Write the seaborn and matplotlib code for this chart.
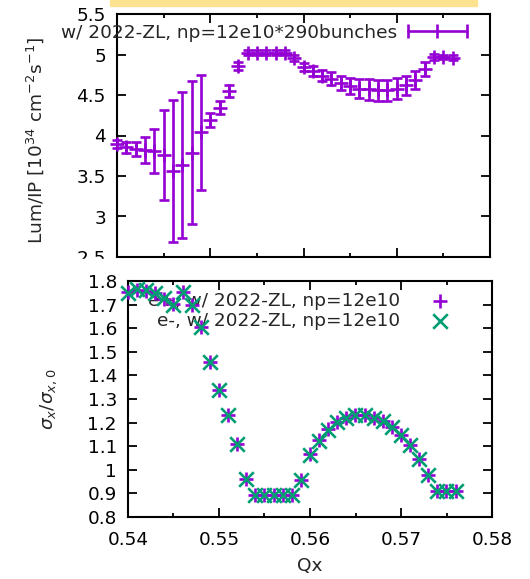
import matplotlib
matplotlib.use('Agg')
import matplotlib.pyplot as plt
import matplotlib.ticker as mticker
from matplotlib.lines import Line2D
from matplotlib.patches import Rectangle
import seaborn as sns
import pandas as pd

# tune scan points
qx = [0.540, 0.541, 0.542, 0.543, 0.544, 0.545, 0.546, 0.547, 0.548, 0.549,
      0.550, 0.551, 0.552, 0.553, 0.554, 0.555, 0.556, 0.557, 0.558, 0.559,
      0.560, 0.561, 0.562, 0.563, 0.564, 0.565, 0.566, 0.567, 0.568, 0.569,
      0.570, 0.571, 0.572, 0.573, 0.574, 0.575, 0.576]

# luminosity per IP [1e34 cm^-2 s^-1]
lum = [3.90, 3.855, 3.83, 3.82, 3.81, 3.76, 3.56, 3.64, 3.79, 4.04,
       4.19, 4.34, 4.55, 4.86, 5.02, 5.02, 5.02, 5.02, 5.02, 4.96,
       4.85, 4.80, 4.74, 4.70, 4.65, 4.61, 4.58, 4.57, 4.56, 4.56,
       4.58, 4.62, 4.69, 4.82, 4.97, 4.97, 4.96]
lum_err = [0.05, 0.07, 0.085, 0.16, 0.27, 0.56, 0.88, 0.90, 0.88, 0.71,
           0.09, 0.08, 0.075, 0.05, 0.03, 0.03, 0.03, 0.03, 0.03, 0.04,
           0.05, 0.06, 0.07, 0.08, 0.09, 0.10, 0.12, 0.13, 0.13, 0.13,
           0.13, 0.12, 0.11, 0.09, 0.04, 0.03, 0.03]

# horizontal beam size ratio
sig_ep = [1.752, 1.762, 1.759, 1.748, 1.724, 1.702, 1.752, 1.700, 1.606, 1.455,
          1.338, 1.232, 1.108, 0.961, 0.893, 0.893, 0.893, 0.893, 0.893, 0.955,
          1.065, 1.126, 1.173, 1.204, 1.221, 1.232, 1.232, 1.221, 1.207, 1.183,
          1.147, 1.105, 1.046, 0.978, 0.910, 0.910, 0.910]
sig_em = [1.750, 1.765, 1.762, 1.750, 1.728, 1.700, 1.755, 1.698, 1.604, 1.455,
          1.338, 1.232, 1.108, 0.961, 0.893, 0.893, 0.893, 0.893, 0.893, 0.955,
          1.063, 1.124, 1.170, 1.202, 1.220, 1.232, 1.231, 1.220, 1.205, 1.181,
          1.146, 1.103, 1.045, 0.977, 0.910, 0.910, 0.910]

lum_label = 'w/ 2022-ZL, np=12e10*290bunches'
ep_label = 'e+, w/ 2022-ZL, np=12e10'
em_label = 'e-, w/ 2022-ZL, np=12e10'

purple = '#9400d3'
green = '#009e73'
fs = 13.3

sns.set_style('ticks')
plt.rcParams['font.family'] = ['DejaVu Sans']
plt.rcParams['mathtext.fontset'] = 'dejavusans'
plt.rcParams['font.size'] = fs

df = pd.DataFrame({'qx': qx, 'ep': sig_ep, 'em': sig_em})

fig = plt.figure(figsize=(5.3, 5.79), dpi=100)
W, H = 530, 579
ax1 = fig.add_axes([117 / W, 1 - 257 / H, 373 / W, 243 / H], zorder=0)
ax2 = fig.add_axes([128 / W, 1 - 517 / H, 364 / W, 236 / H], zorder=2)

# strip at the top and cover that clips the lower tick label of the top panel
fig.add_artist(Rectangle((110 / W, 1 - 6 / H), 367 / W, 6 / H,
                         transform=fig.transFigure, color='#fde38f', zorder=1))
fig.add_artist(Rectangle((0, 0), 1, 1 - 259 / H, transform=fig.transFigure,
                         color='white', zorder=1))

# top panel
ax1.errorbar(qx, lum, yerr=lum_err, fmt='+', color=purple, ms=10, mew=1.9,
             elinewidth=1.9, capsize=3.8, capthick=1.9, clip_on=False, zorder=3)
ax1.set_xlim(0.54, 0.58)
ax1.set_ylim(2.5, 5.5)
ax1.yaxis.set_major_locator(mticker.MultipleLocator(0.5))
ax1.xaxis.set_major_locator(mticker.MultipleLocator(0.01))
ax1.xaxis.set_minor_locator(mticker.MultipleLocator(0.005))
ax1.yaxis.set_major_formatter(mticker.FormatStrFormatter('%g'))
ax1.tick_params(labelbottom=False)
ax1.set_ylabel(r'Lum/IP [10$^{34}$ cm$^{-2}$s$^{-1}$]')
ax1.yaxis.set_label_coords(-0.19, 0.48)
h1 = Line2D([], [], color=purple, lw=1.9, marker='|', ms=10, mew=1.9)
ax1.legend([h1], [lum_label], loc='center right', bbox_to_anchor=(0.953, 0.922),
           frameon=False, markerfirst=False, numpoints=3, handlelength=3.8,
           handletextpad=0.3, borderpad=0, borderaxespad=0, fontsize=fs)

# bottom panel
sns.scatterplot(data=df, x='qx', y='ep', marker='+', color=purple, s=110,
                linewidth=1.9, ax=ax2, clip_on=False, zorder=3)
sns.scatterplot(data=df, x='qx', y='em', marker='x', color=green, s=110,
                linewidth=1.9, ax=ax2, clip_on=False, zorder=3)
ax2.set_xlim(0.54, 0.58)
ax2.set_ylim(0.8, 1.8)
ax2.xaxis.set_major_locator(mticker.MultipleLocator(0.01))
ax2.xaxis.set_minor_locator(mticker.MultipleLocator(0.005))
ax2.yaxis.set_major_locator(mticker.MultipleLocator(0.1))
ax2.xaxis.set_major_formatter(mticker.FormatStrFormatter('%g'))
ax2.yaxis.set_major_formatter(mticker.FormatStrFormatter('%g'))
ax2.set_xlabel('Qx')
ax2.xaxis.set_label_coords(0.5, -0.17)
ax2.set_ylabel(r'$\sigma_x/\sigma_{x,0}$')
ax2.yaxis.set_label_coords(-0.19, 0.5)
leg = ax2.legend(ax2.collections[:2], [ep_label, em_label], loc='center right',
                 bbox_to_anchor=(0.909, 0.873), frameon=False, markerfirst=False,
                 scatterpoints=1, handlelength=2.0, handletextpad=1.2,
                 labelspacing=0.1, borderpad=0, borderaxespad=0, fontsize=fs)
leg.set_zorder(1)

for ax in (ax1, ax2):
    for sp in ax.spines.values():
        sp.set_linewidth(1.5)
        sp.set_color('black')
    ax.tick_params(which='both', direction='in', top=True, right=True,
                   width=1.3, labelsize=fs, colors='black')
    ax.tick_params(which='major', length=6.5, pad=8)
    ax.tick_params(which='minor', length=3.2)
    ax.set_facecolor('white')

ax2.tick_params(axis='x', pad=10)

fig.savefig('out.png', dpi=100)
